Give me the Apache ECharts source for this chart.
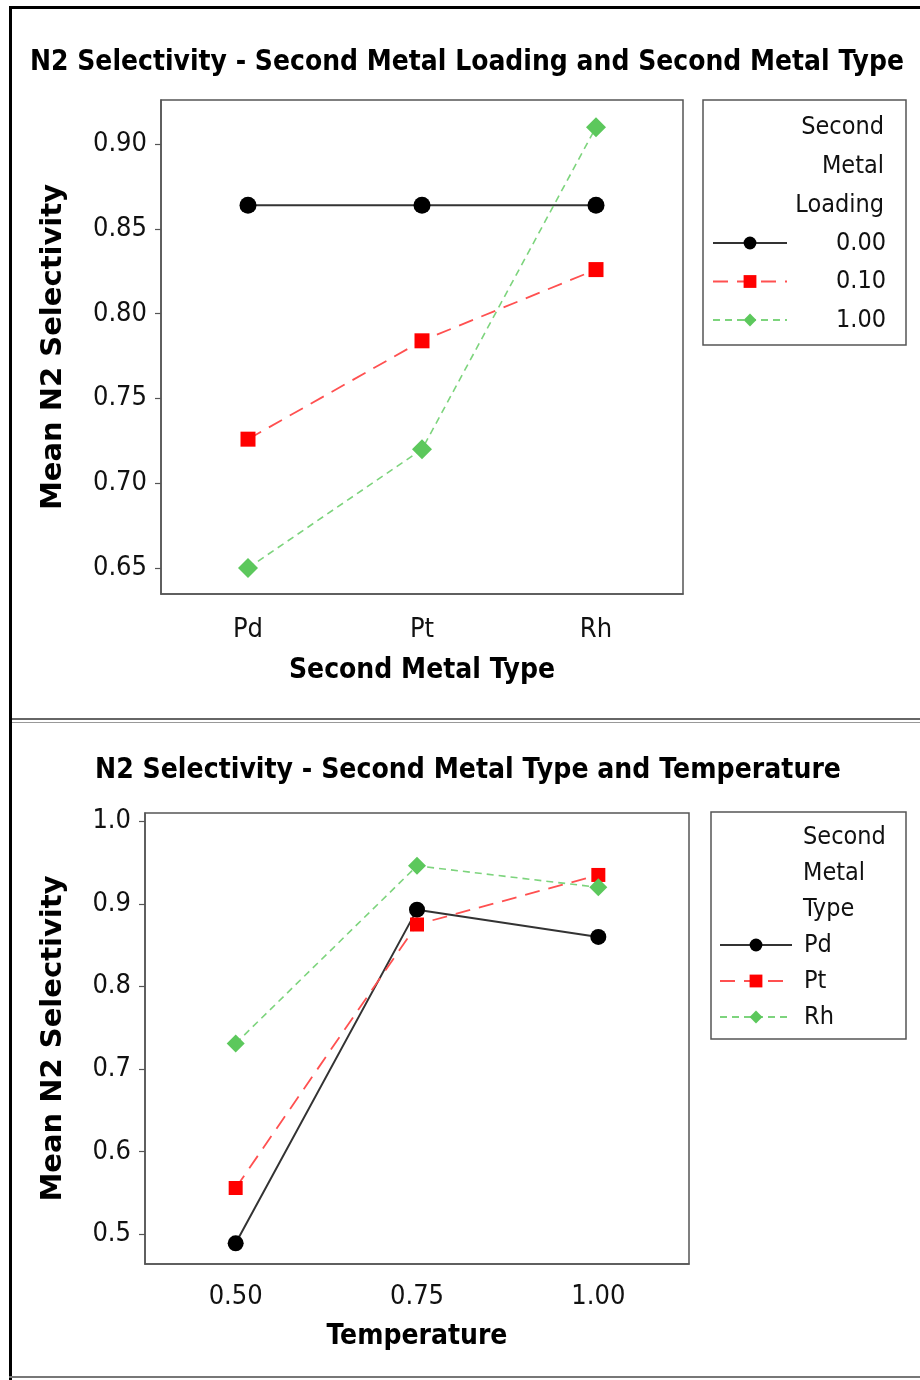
<!DOCTYPE html>
<html><head><meta charset="utf-8">
<script src="https://cdn.jsdelivr.net/npm/echarts@6/dist/echarts.min.js"></script>
<style>html,body{margin:0;padding:0;background:#fff}#c{width:920px;height:1380px}</style>
</head><body><div id="c"></div>
<script>
// ---- data ----
const topTitle = 'N2 Selectivity - Second Metal Loading and Second Metal Type';
const topCategories = ['Pd', 'Pt', 'Rh'];
const topSeriesNames = ['0.00', '0.10', '1.00'];
const topLoading000 = [0.864, 0.864, 0.864];
const topLoading010 = [0.726, 0.784, 0.826];
const topLoading100 = [0.650, 0.720, 0.910];
const topYTicks = [0.65, 0.70, 0.75, 0.80, 0.85, 0.90];
const topLegendTitle = ['Second', 'Metal', 'Loading'];

const bottomTitle = 'N2 Selectivity - Second Metal Type and Temperature';
const bottomCategories = ['0.50', '0.75', '1.00'];
const bottomSeriesNames = ['Pd', 'Pt', 'Rh'];
const bottomPd = [0.489, 0.893, 0.860];
const bottomPt = [0.556, 0.875, 0.935];
const bottomRh = [0.731, 0.946, 0.920];
const bottomYTicks = [0.5, 0.6, 0.7, 0.8, 0.9, 1.0];
const bottomLegendTitle = ['Second', 'Metal', 'Type'];

const yName = 'Mean N2 Selectivity';
const topXName = 'Second Metal Type';
const bottomXName = 'Temperature';

// ---- styles ----
const COND = '"DejaVu Sans Condensed", "Liberation Sans Narrow", "DejaVu Sans", sans-serif';
const BOLD = '"DejaVu Sans", sans-serif';
const AX = '#555';
const styles = [
  {symbol: 'circle', size: 17, color: '#000', line: {color: '#333', width: 2, type: 'solid'}},
  {symbol: 'rect', size: 15, color: '#ff0000', line: {color: '#ff5050', width: 1.8, type: [15, 9]}},
  {symbol: 'diamond', size: 20, color: '#5cc85c', line: {color: '#7dd47d', width: 1.6, type: [7, 5]}}
];
const bottomSizes = [16, 14, 18];

function measure(text, font) {
  const c = document.createElement('canvas').getContext('2d');
  c.font = font;
  return c.measureText(text).width;
}
const titleFont = 'bold 29px "DejaVu Sans", sans-serif';
const topTitleScale = 874 / measure(topTitle, titleFont);
const bottomTitleScale = 746 / measure(bottomTitle, titleFont);

function mkSeries(names, datas, gi, sizes) {
  return names.map((n, i) => ({
    name: n, type: 'line', xAxisIndex: gi, yAxisIndex: gi,
    data: datas[i], symbol: styles[i].symbol,
    symbolSize: sizes ? sizes[i] : styles[i].size,
    showAllSymbol: true,
    itemStyle: {color: styles[i].color, borderWidth: 0},
    lineStyle: Object.assign({}, styles[i].line),
    z: 2 + i
  }));
}

function xAxis(gi, cats, name, nameGap, margin) {
  return {
    gridIndex: gi, type: 'category', data: cats, boundaryGap: true,
    axisLine: {lineStyle: {color: AX, width: 1.5}},
    axisTick: {alignWithLabel: true, length: 6, lineStyle: {color: AX, width: 1.2}},
    axisLabel: {fontFamily: COND, fontSize: 27, color: '#111', margin: margin},
    name: name, nameLocation: 'middle', nameGap: nameGap,
    nameTextStyle: {fontFamily: COND, fontWeight: 'bold', fontSize: 28, color: '#000'}
  };
}
function yAxis(gi, min, max, ticks, dec, nameGap) {
  return {
    gridIndex: gi, type: 'value', min: min, max: max,
    splitLine: {show: false},
    axisLine: {show: true, lineStyle: {color: AX, width: 1.5}},
    axisTick: {show: true, customValues: ticks, length: 6, lineStyle: {color: AX, width: 1.2}},
    axisLabel: {customValues: ticks, formatter: v => v.toFixed(dec), fontFamily: COND, fontSize: 27, color: '#111', margin: 14},
    name: yName, nameLocation: 'middle', nameGap: nameGap,
    nameTextStyle: {fontFamily: BOLD, fontWeight: 'bold', fontSize: 29, color: '#000'}
  };
}

function legendTitle(lines, x, ys, align) {
  return lines.map((t, i) => ({
    type: 'text', x: x, y: ys[i], z: 10,
    style: {text: t, font: '25px ' + COND, fill: '#111', textAlign: align, textVerticalAlign: 'middle'}
  }));
}

const graphics = [
  // frame
  {type: 'rect', shape: {x: 9, y: 6, width: 911, height: 3}, style: {fill: '#000'}},
  {type: 'rect', shape: {x: 9, y: 6, width: 3, height: 1374}, style: {fill: '#000'}},
  {type: 'rect', shape: {x: 12, y: 718, width: 908, height: 2}, style: {fill: '#666'}},
  {type: 'rect', shape: {x: 12, y: 722, width: 908, height: 1}, style: {fill: '#999'}},
  {type: 'rect', shape: {x: 9, y: 1376, width: 911, height: 2}, style: {fill: '#777'}},
  // titles
  {type: 'text', x: 467, y: 62, scaleX: topTitleScale, z: 10,
   style: {text: topTitle, font: titleFont, fill: '#000', textAlign: 'center', textVerticalAlign: 'middle'}},
  {type: 'text', x: 468, y: 770, scaleX: bottomTitleScale, z: 10,
   style: {text: bottomTitle, font: titleFont, fill: '#000', textAlign: 'center', textVerticalAlign: 'middle'}},
  // legend boxes
  {type: 'rect', shape: {x: 703, y: 100, width: 203, height: 245}, style: {fill: '#fff', stroke: AX, lineWidth: 1.5}, z: 1},
  {type: 'rect', shape: {x: 711, y: 812, width: 195, height: 227}, style: {fill: '#fff', stroke: AX, lineWidth: 1.5}, z: 1}
].concat(legendTitle(topLegendTitle, 884, [127, 166, 205], 'right'))
 .concat(legendTitle(bottomLegendTitle, 803, [837, 873, 909], 'left'));

const option = {
  animation: false,
  backgroundColor: '#fff',
  grid: [
    {left: 161, top: 100, width: 522, height: 494, show: true, borderColor: AX, borderWidth: 1.5, containLabel: false},
    {left: 145, top: 813, width: 544, height: 451, show: true, borderColor: AX, borderWidth: 1.5, containLabel: false}
  ],
  xAxis: [xAxis(0, topCategories, topXName, 63, 22), xAxis(1, bottomCategories, bottomXName, 59, 19)],
  yAxis: [yAxis(0, 0.6347, 0.926, topYTicks, 2, 93), yAxis(1, 0.464, 1.01, bottomYTicks, 1, 77)],
  legend: [
    {data: topSeriesNames, orient: 'vertical', left: 712, top: 228, padding: 0, itemWidth: 74, itemHeight: 16, itemGap: 8.5,
     selectedMode: false, textStyle: {fontFamily: COND, fontSize: 25, color: '#111', lineHeight: 30, padding: [0, 0, 0, 44]}},
    {data: bottomSeriesNames, orient: 'vertical', left: 719, top: 930, padding: 0, itemWidth: 72, itemHeight: 16, itemGap: 6,
     selectedMode: false, textStyle: {fontFamily: COND, fontSize: 25, color: '#111', lineHeight: 30, padding: [0, 0, 0, 7]}}
  ],
  graphic: graphics,
  series: mkSeries(topSeriesNames, [topLoading000, topLoading010, topLoading100], 0)
    .concat(mkSeries(bottomSeriesNames, [bottomPd, bottomPt, bottomRh], 1, bottomSizes))
};
const chart = echarts.init(document.getElementById('c'), null, {renderer: 'canvas'});
chart.setOption(option);
</script>
</body></html>
